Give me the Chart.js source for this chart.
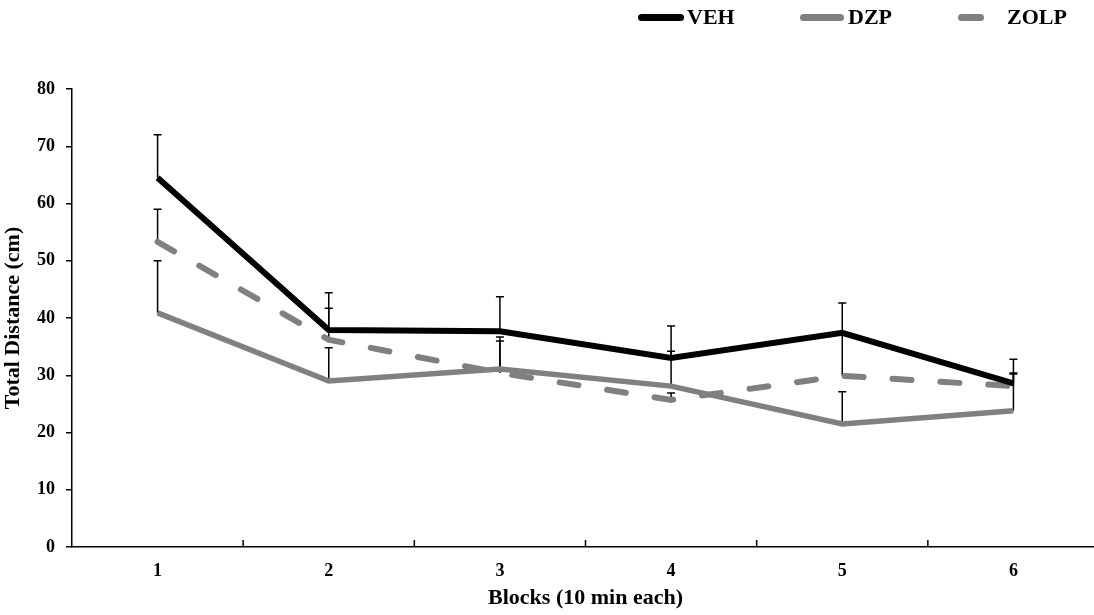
<!DOCTYPE html>
<html>
<head>
<meta charset="utf-8">
<script src="https://cdn.jsdelivr.net/npm/chart.js@4.4.1/dist/chart.umd.min.js"></script>
<style>
    html, body { margin: 0; padding: 0; background: #fff; overflow: hidden; }
    #wrap { position: relative; width: 1100px; height: 615px; }
    #legend { position: absolute; top: 4px; left: 0; font: bold 22px "Liberation Serif", serif; color: #000; }
    .item { position: absolute; top: 0; white-space: nowrap; line-height: 26px; }
    .swatch { position: absolute; top: 10px; height: 7px; border-radius: 3.5px; }
</style>
</head>
<body>
<div id="wrap">
    <canvas id="chart" width="1100" height="615"></canvas>
    <div id="legend"></div>
</div>
<script>
const blocks = ['1', '2', '3', '4', '5', '6'];
const seriesNames = ['VEH', 'DZP', 'ZOLP'];

// mean total distance (cm) per block
const vehMean = [64.5, 37.9, 37.7, 33.0, 37.4, 28.6];
const dzpMean = [40.9, 29.0, 31.1, 28.1, 21.5, 23.8];
const zolpMean = [53.3, 36.2, 30.4, 25.7, 29.9, 28.1];

// upper error (SEM)
const vehErr = [7.5, 6.5, 6.0, 5.6, 5.2, 4.2];
const dzpErr = [9.1, 5.8, 5.6, 6.1, 5.6, 6.6];
const zolpErr = [5.7, 5.5, 5.6, 1.2, 7.1, 2.1];

const yTicks = [0, 10, 20, 30, 40, 50, 60, 70, 80];

const FONT = '"Liberation Serif", "Times New Roman", serif';
const GREY = '#808080';

// Legend (HTML, top right)
const legendItems = [
    { name: seriesNames[0], color: '#000', lineLeft: 638, lineWidth: 46, textLeft: 687 },
    { name: seriesNames[1], color: GREY, lineLeft: 800, lineWidth: 44, textLeft: 848 },
    { name: seriesNames[2], color: GREY, lineLeft: 958, lineWidth: 26, textLeft: 1007 }
];
const legendEl = document.getElementById('legend');
legendItems.forEach(it => {
    const sw = document.createElement('div');
    sw.className = 'swatch';
    sw.style.left = it.lineLeft + 'px';
    sw.style.width = it.lineWidth + 'px';
    sw.style.background = it.color;
    legendEl.appendChild(sw);
    const tx = document.createElement('div');
    tx.className = 'item';
    tx.style.left = it.textLeft + 'px';
    tx.textContent = it.name;
    legendEl.appendChild(tx);
});

// upward error bars, drawn under the lines
const errorBars = {
    id: 'errorBars',
    beforeDatasetsDraw(chart) {
        const ctx = chart.ctx;
        const y = chart.scales.y;
        ctx.save();
        ctx.strokeStyle = '#000';
        ctx.lineWidth = 1.5;
        chart.data.datasets.forEach((ds, di) => {
            const meta = chart.getDatasetMeta(di);
            ds.data.forEach((v, i) => {
                const x = meta.data[i].x;
                const y0 = y.getPixelForValue(v);
                const y1 = y.getPixelForValue(v + ds.errors[i]);
                ctx.beginPath();
                ctx.moveTo(x, y0);
                ctx.lineTo(x, y1);
                ctx.moveTo(x - 4, y1);
                ctx.lineTo(x + 4, y1);
                ctx.stroke();
            });
        });
        ctx.restore();
    }
};

// inward tick marks between blocks on the x axis
const innerTicks = {
    id: 'innerTicks',
    afterDraw(chart) {
        const ctx = chart.ctx;
        const xs = chart.scales.x;
        const bottom = chart.chartArea.bottom;
        ctx.save();
        ctx.strokeStyle = '#000';
        ctx.lineWidth = 1.5;
        for (let i = 1; i < blocks.length; i++) {
            const x = (xs.getPixelForTick(i - 1) + xs.getPixelForTick(i)) / 2;
            ctx.beginPath();
            ctx.moveTo(x, bottom);
            ctx.lineTo(x, bottom - 7);
            ctx.stroke();
        }
        ctx.restore();
    }
};

const ctx = document.getElementById('chart').getContext('2d');
new Chart(ctx, {
    type: 'line',
    data: {
        labels: blocks,
        datasets: [
            {
                label: seriesNames[0],
                data: vehMean,
                errors: vehErr,
                borderColor: '#000',
                borderWidth: 6,
                pointRadius: 0,
                tension: 0
            },
            {
                label: seriesNames[1],
                data: dzpMean,
                errors: dzpErr,
                borderColor: GREY,
                borderWidth: 5.5,
                pointRadius: 0,
                tension: 0
            },
            {
                label: seriesNames[2],
                data: zolpMean,
                errors: zolpErr,
                borderColor: GREY,
                borderWidth: 6,
                borderDash: [19, 29],
                borderCapStyle: 'round',
                pointRadius: 0,
                tension: 0
            }
        ]
    },
    options: {
        responsive: false,
        animation: false,
        layout: { padding: { top: 89, right: 1, left: 0, bottom: 0 } },
        plugins: {
            legend: { display: false },
            tooltip: { enabled: false }
        },
        scales: {
            x: {
                offset: true,
                grid: { display: false },
                border: { display: true, color: '#000', width: 1.5 },
                ticks: {
                    color: '#000',
                    padding: 6,
                    font: { family: FONT, size: 18, weight: 'bold' }
                },
                title: {
                    display: true,
                    text: 'Blocks (10 min each)',
                    color: '#000',
                    font: { family: FONT, size: 22, weight: 'bold' },
                    padding: { top: 0, bottom: 3 }
                },
                afterFit(scale) { scale.height = 68; }
            },
            y: {
                min: 0,
                max: 80,
                afterBuildTicks(scale) { scale.ticks = yTicks.map(v => ({ value: v })); },
                grid: {
                    drawOnChartArea: false,
                    color: '#000',
                    lineWidth: 1.5,
                    tickLength: 6
                },
                border: { display: true, color: '#000', width: 1.5 },
                ticks: {
                    color: '#000',
                    padding: 11,
                    font: { family: FONT, size: 18, weight: 'bold' }
                },
                title: {
                    display: true,
                    text: 'Total Distance (cm)',
                    color: '#000',
                    font: { family: FONT, size: 22, weight: 'bold' },
                    padding: { top: 0, bottom: 7 }
                },
                afterFit(scale) { scale.width = 72; }
            }
        }
    },
    plugins: [errorBars, innerTicks]
});
</script>
</body>
</html>
